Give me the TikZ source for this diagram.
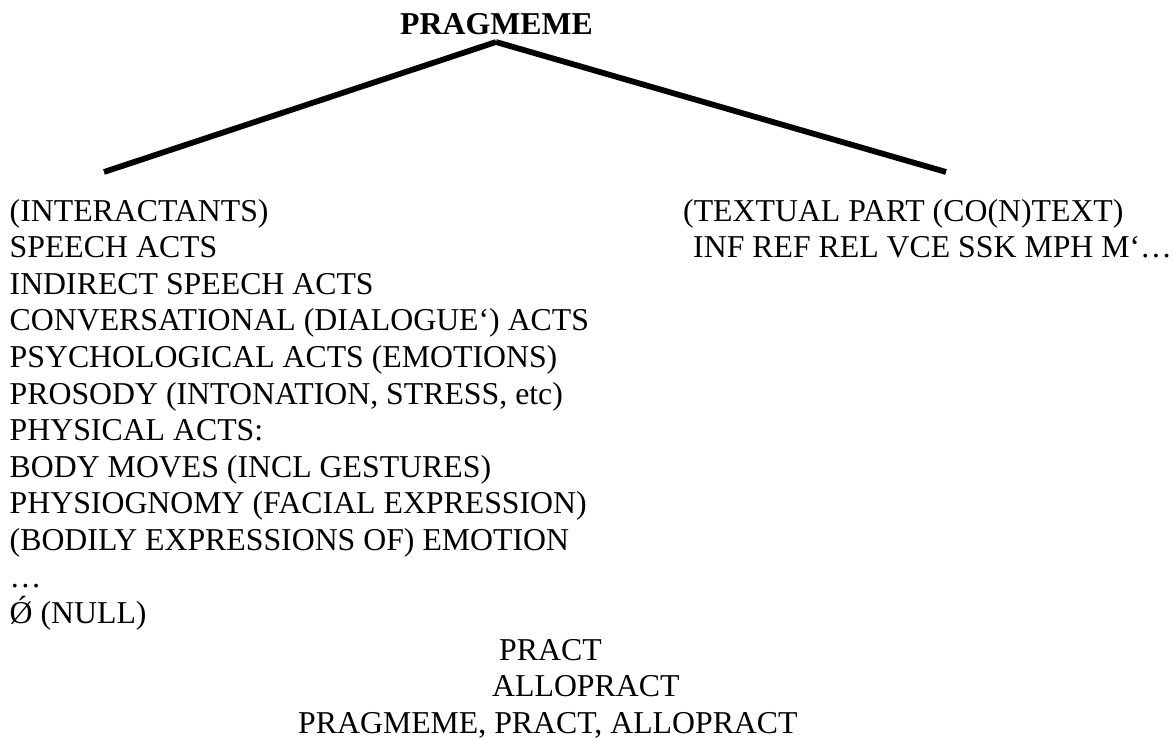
\documentclass[tikz,border=0pt]{standalone}
\usepackage{fontspec}
\setmainfont{Liberation Serif}
\usepackage{tikz}

\begin{document}
\begin{tikzpicture}[x=1pt, y=1pt,
    txt/.style = {anchor=base west, inner sep=0pt, font=\fontsize{31.8}{36.6}\selectfont},
    branch/.style = {line width=5.8pt}]
    \useasboundingbox (0,0) rectangle (1174,-738);

    \node[txt, font=\fontsize{31.8}{36.6}\selectfont\bfseries] (pragmeme) at (400,-35) {PRAGMEME};
    \coordinate (apex) at (496,-42);
    \coordinate (leftend) at (104,-172);
    \coordinate (rightend) at (946,-172);
    \draw[branch] (apex) -- (leftend);
    \draw[branch] (apex) -- (rightend);

    \foreach \txt [count=\i from 0] in {{(INTERACTANTS)}, {SPEECH ACTS}, {INDIRECT SPEECH ACTS},
        {CONVERSATIONAL (DIALOGUE‘) ACTS}, {PSYCHOLOGICAL ACTS (EMOTIONS)},
        {PROSODY (INTONATION, STRESS, etc)}, {PHYSICAL ACTS:}, {BODY MOVES (INCL GESTURES)},
        {PHYSIOGNOMY (FACIAL EXPRESSION)}, {(BODILY EXPRESSIONS OF) EMOTION}, {…}, {Ǿ (NULL)}}
        \node[txt] (act\i) at (9.5,{-221-36.6*\i}) {\txt};

    \node[txt] (textual) at (683,-221) {(TEXTUAL PART (CO(N)TEXT)};
    \node[txt] (infref) at (693,-257.6) {INF REF REL VCE SSK MPH M‘…};

    \node[txt] (pract) at (499,-660.2) {PRACT};
    \node[txt] (allopract) at (492,-696.8) {ALLOPRACT};
    \node[txt] (summary) at (298,-733.4) {PRAGMEME, PRACT, ALLOPRACT};
\end{tikzpicture}
\end{document}
